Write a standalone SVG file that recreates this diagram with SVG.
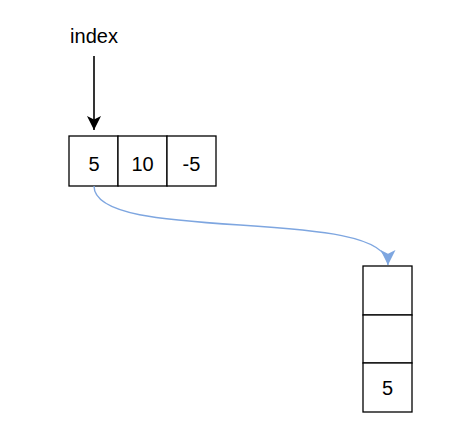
<svg xmlns="http://www.w3.org/2000/svg" width="472" height="440" viewBox="0 0 472 440">
<style>
.cell{fill:#fff;stroke:#000;stroke-width:1.3}
.t{font-family:"Liberation Sans",Arial,sans-serif;font-size:20px;fill:#000;text-anchor:middle}
</style>
<defs>
<marker id="ab" markerWidth="14" markerHeight="14" refX="10" refY="5" orient="auto" markerUnits="userSpaceOnUse" viewBox="0 0 10 10">
<path d="M0,0 L10,5 L0,10 L2.5,5 Z" fill="#000"/>
</marker>
<marker id="ablue" markerWidth="15" markerHeight="15" refX="10" refY="5" orient="auto" markerUnits="userSpaceOnUse" viewBox="0 0 10 10">
<path d="M0,0 L10,5 L0,10 L2.5,5 Z" fill="#7EA6E0"/>
</marker>
</defs>
<rect width="472" height="440" fill="#fff"/>
<g id="index-label"><text class="t" x="94" y="43">index</text></g>
<g id="array">
<rect class="cell" x="69" y="136" width="49" height="50"/>
<rect class="cell" x="118" y="136" width="49" height="50"/>
<rect class="cell" x="167" y="136" width="49" height="50"/>
<text class="t" x="94" y="171">5</text>
<text class="t" x="142.5" y="171">10</text>
<text class="t" x="191.5" y="171">-5</text>
</g>
<g id="stack">
<rect class="cell" x="363" y="266" width="49" height="49"/>
<rect class="cell" x="363" y="315" width="49" height="48"/>
<rect class="cell" x="363" y="363" width="49" height="49"/>
<text class="t" x="387.5" y="395">5</text>
</g>
<g id="connectors">
<path d="M94,56 L94,130" stroke="#000" stroke-width="1.6" fill="none" marker-end="url(#ab)"/>
<path d="M94,186 C94,245 388,205 388,265" stroke="#7EA6E0" stroke-width="1.4" fill="none" marker-end="url(#ablue)"/>
</g>
</svg>
